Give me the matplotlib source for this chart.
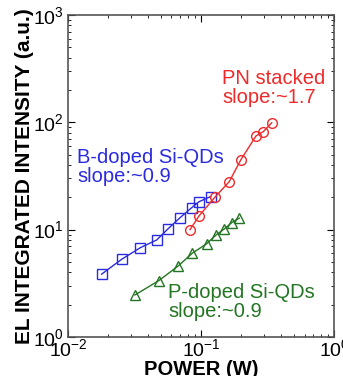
import numpy as np
import matplotlib.pyplot as plt

plt.rcParams["font.family"] = ["Liberation Sans", "DejaVu Sans"]

# B-doped Si-QDs
b_power = [0.0179, 0.0254, 0.0351, 0.0464, 0.0562, 0.0695, 0.0851, 0.0966, 0.118]
b_intensity = [3.84, 5.3, 6.8, 8.0, 10.1, 12.9, 16.0, 18.2, 20.3]

# PN stacked
pn_power = [0.0827, 0.0966, 0.127, 0.163, 0.199, 0.259, 0.294, 0.340]
pn_intensity = [10.0, 13.4, 20.0, 28.0, 44.6, 74.7, 81.9, 99.0]

# P-doped Si-QDs
p_power = [0.0319, 0.0483, 0.0675, 0.086, 0.110, 0.130, 0.149, 0.170, 0.194]
p_intensity = [2.46, 3.35, 4.59, 6.03, 7.36, 8.93, 10.1, 11.6, 12.8]

RED = "#ee2a2a"
BLUE = "#2a2ae0"
GREEN = "#237523"

fig = plt.figure(figsize=(3.43, 3.76), dpi=100)
ax = fig.add_axes([0.198, 0.104, 0.776, 0.856])

ax.plot(b_power, b_intensity, "-s", color=BLUE, mfc="none", ms=7, lw=1, mew=1)
ax.plot(pn_power, pn_intensity, "-o", color=RED, mfc="none", ms=7, lw=1, mew=1)
ax.plot(p_power, p_intensity, "-^", color=GREEN, mfc="none", ms=7.5, lw=1, mew=1)

ax.set_xscale("log")
ax.set_yscale("log")
ax.set_xlim(1e-2, 1)
ax.set_ylim(1, 1000)

ax.text(0.144, 209, "PN stacked\nslope:~1.7", color=RED, fontsize=14.5,
        ha="left", va="center", linespacing=1.05)
ax.text(0.0117, 38.4, "B-doped Si-QDs\nslope:~0.9", color=BLUE, fontsize=14.5,
        ha="left", va="center", linespacing=1.05)
ax.text(0.0565, 2.12, "P-doped Si-QDs\nslope:~0.9", color=GREEN, fontsize=14.5,
        ha="left", va="center", linespacing=1.05)

ax.set_xlabel("POWER (W)", fontsize=14.5, fontweight="bold", labelpad=0)
ax.set_ylabel("EL INTEGRATED INTENSITY (a.u.)", fontsize=15, fontweight="bold", labelpad=-1)

ax.tick_params(which="both", direction="in", top=True, right=True, labelsize=14)
ax.tick_params(axis="x", pad=1)
ax.tick_params(axis="y", pad=3)
ax.tick_params(which="major", length=5)
ax.tick_params(which="minor", length=2.5)
for s in ax.spines.values():
    s.set_color("#555555")
    s.set_linewidth(1.2)

fig.savefig("out.png", dpi=100)
